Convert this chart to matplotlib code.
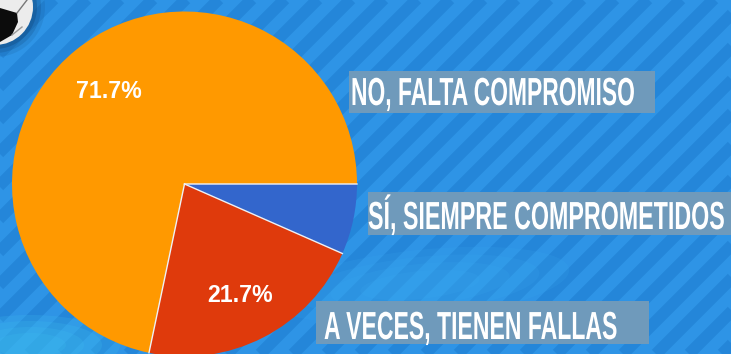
import matplotlib
matplotlib.use('Agg')
import numpy as np
import matplotlib.pyplot as plt
from matplotlib.patches import Circle, Polygon, Rectangle, Ellipse
from matplotlib.patheffects import AbstractPathEffect
from matplotlib.transforms import Affine2D

# Data
categories = ['Sí, siempre comprometidos', 'A veces, tienen fallas', 'No, falta compromiso']
values = [6.6, 21.7, 71.7]
colors = ['#3366cc', '#df3a0c', '#ff9900']
pct_labels = ['71.7%', '21.7%']
label_texts = ['NO, FALTA COMPROMISO', 'SÍ, SIEMPRE COMPROMETIDOS', 'A VECES, TIENEN FALLAS']

H = 354


class Stretch(AbstractPathEffect):
    # the poster font is very condensed: set the text to the right width, then pull it up
    def __init__(self, sy):
        self.sy = sy

    def draw_path(self, renderer, gc, tpath, affine, rgbFace=None):
        y0 = affine.get_matrix()[1, 2]
        tall = Affine2D().translate(0, -y0).scale(1, self.sy).translate(0, y0)
        renderer.draw_path(gc, tpath, affine + tall, rgbFace)


fig = plt.figure(figsize=(7.31, 3.54), dpi=100, facecolor='#2e94e6')
ax = fig.add_axes([0, 0, 1, 1])

# ---------------------
# Background stripes
# ---------------------
for x in range(-400, 800, 33):
    ax.plot([x, x + 400], [0, 400], color='#2283d6', lw=8.5, alpha=0.8,
            solid_capstyle='butt', zorder=1)
# soft light patches low in the picture
for scale in [1.0, 0.8, 0.6, 0.4]:
    ax.add_patch(Ellipse((420, H - 285), 300 * scale, 70 * scale, angle=6,
                         color='#3aaaf0', alpha=0.16, lw=0, zorder=1))
    ax.add_patch(Ellipse((30, H - 345), 180 * scale, 60 * scale,
                         color='#3fc0f0', alpha=0.2, lw=0, zorder=1))

# ---------------------
# Soccer ball
# ---------------------
for r, a in [(50, 0.12), (46, 0.2), (42, 0.3)]:
    ax.add_patch(Circle((-5, H - 7), r, color='#0d3f70', alpha=a, lw=0, zorder=2))
ax.add_patch(Circle((-5, H - 7), 38, color='#ececec', lw=0, zorder=3))
ax.add_patch(Polygon([(0, H - 8), (17, H - 13), (18, H - 22), (12, H - 35), (0, H - 42)],
                     color='#0c0c0c', lw=0, zorder=4))
ax.plot([17, 27], [H - 13, H], color='#777777', lw=1, zorder=4)
ax.plot([12, 22], [H - 35, H - 27], color='#999999', lw=1, zorder=4)

# ---------------------
# Pie
# ---------------------
cx, cy, radius = 184.5, H - 184, 172.5
wedges, _ = ax.pie(values, colors=colors, startangle=0, counterclock=False,
                   center=(cx, cy), radius=radius, wedgeprops={'linewidth': 0})
for w in wedges:
    w.set_zorder(5)
    a = np.deg2rad(w.theta1)
    ax.plot([cx, cx + radius * np.cos(a)], [cy, cy + radius * np.sin(a)],
            color='#eef1f6', lw=1.0, zorder=5.5)

ax.text(108.5, H - 91, pct_labels[0], color='white', fontsize=16.7, fontweight='bold',
        family='Liberation Sans', ha='center', va='center', zorder=6)
ax.text(240.5, H - 295, pct_labels[1], color='white', fontsize=16.7, fontweight='bold',
        family='Liberation Sans', ha='center', va='center', zorder=6)

ax.set_xlim(0, 731)
ax.set_ylim(0, H)
ax.set_aspect('auto')

# ---------------------
# Label boxes
# ---------------------
boxes = [(349, 71, 306, 42), (368, 192, 363, 43), (316, 301, 333, 43)]
text_x = [351, 368, 324]
text_w = [284, 357, 294]
baselines = [105, 229, 339]
cap_px = 27

renderer = fig.canvas.get_renderer()
for text, box, tx, tw, base in zip(label_texts, boxes, text_x, text_w, baselines):
    bx, by, bw, bh = box
    ax.add_patch(Rectangle((bx, H - by - bh), bw, bh, color='#6f9abb', lw=0, zorder=6))
    t = ax.text(tx, H - base, text, color='white', fontsize=16, fontweight='bold',
                family='Liberation Sans', ha='left', va='baseline', zorder=7)
    # fit to the measured width
    size = 16 * tw / t.get_window_extent(renderer).width
    t.set_fontsize(size)
    t.set_path_effects([Stretch(cap_px / (0.69 * size * 100 / 72))])

fig.savefig('out.png', dpi=100, facecolor=fig.get_facecolor())
